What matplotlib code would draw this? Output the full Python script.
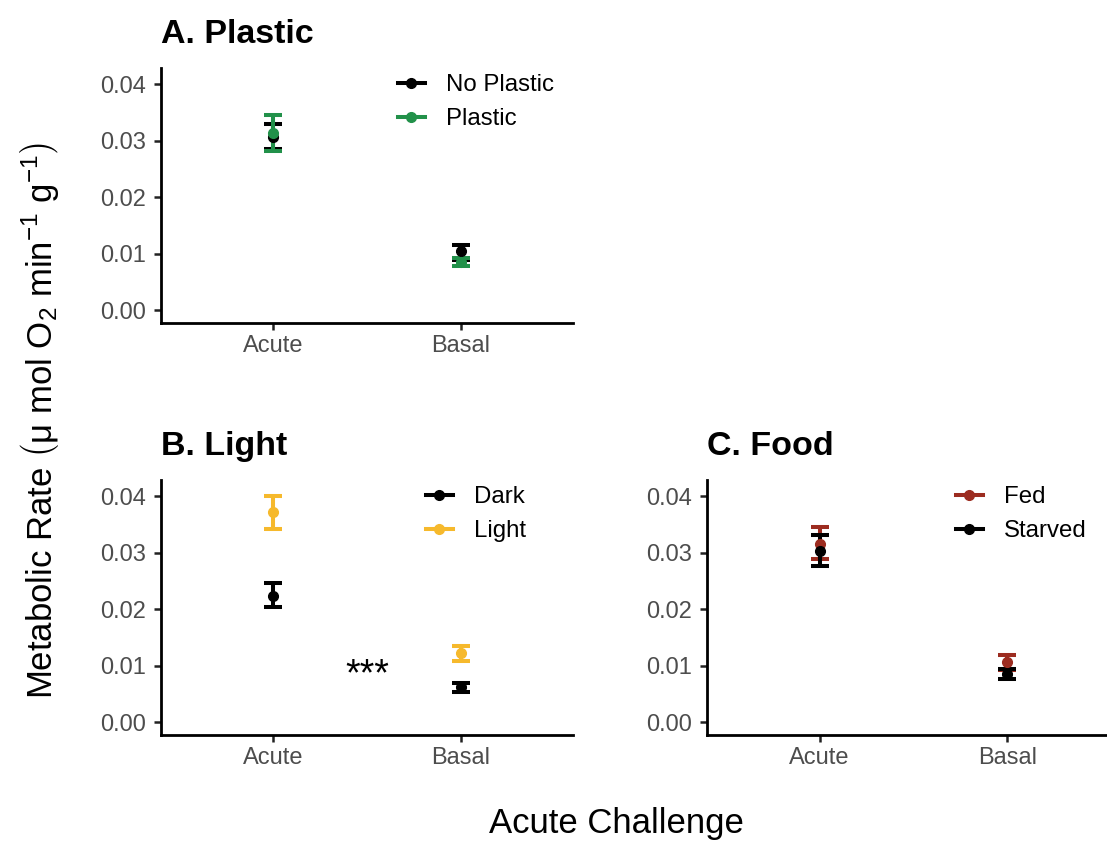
import matplotlib
matplotlib.use("Agg")
import matplotlib.pyplot as plt
from matplotlib.lines import Line2D

plt.rcParams['font.family'] = ['Liberation Sans', 'DejaVu Sans']
plt.rcParams['mathtext.fontset'] = 'custom'
plt.rcParams['mathtext.rm'] = 'Liberation Sans'
plt.rcParams['mathtext.it'] = 'Liberation Sans:italic'
plt.rcParams['mathtext.bf'] = 'Liberation Sans:bold'

# Challenge levels on the x axis
challenge = ["Acute", "Basal"]

# A. Plastic: mean and error-bar limits per challenge
no_plastic_mean = [0.0307, 0.0105]
no_plastic_low = [0.0285, 0.0089]
no_plastic_high = [0.0330, 0.0115]
plastic_mean = [0.0313, 0.0086]
plastic_low = [0.0282, 0.0078]
plastic_high = [0.0345, 0.0093]

# B. Light
dark_mean = [0.0224, 0.0062]
dark_low = [0.0204, 0.0054]
dark_high = [0.0246, 0.0070]
light_mean = [0.0372, 0.0123]
light_low = [0.0342, 0.0109]
light_high = [0.0400, 0.0134]

# C. Food
fed_mean = [0.0316, 0.0106]
fed_low = [0.0289, 0.0093]
fed_high = [0.0345, 0.0119]
starved_mean = [0.0304, 0.0086]
starved_low = [0.0277, 0.0076]
starved_high = [0.0332, 0.0094]

BLACK = "#000000"
GREEN = "#22914A"
YELLOW = "#F6B92C"
RED = "#9C2C20"

W, H = 1107, 842
fig = plt.figure(figsize=(W / 100, H / 100), dpi=100)


def px_axes(left, top, right, bottom):
    return fig.add_axes([left / W, 1 - bottom / H, (right - left) / W, (bottom - top) / H])


def draw_series(ax, mean, low, high, color):
    x = list(range(1, len(challenge) + 1))
    yerr = [[m - l for m, l in zip(mean, low)], [h - m for m, h in zip(mean, high)]]
    ax.errorbar(x, mean, yerr=yerr, fmt='o', color=color, ecolor=color,
                markersize=7, elinewidth=2.9, capsize=6.6, capthick=2.9,
                zorder=3)


def style_axes(ax, title, handles, legend_anchor):
    ax.set_xlim(0.4, 2.6)
    ax.set_ylim(-0.0023, 0.0429)
    ax.set_xticks([1, 2])
    ax.set_xticklabels(challenge)
    ax.set_yticks([0.0, 0.01, 0.02, 0.03, 0.04])
    ax.set_yticklabels(["0.00", "0.01", "0.02", "0.03", "0.04"])
    for side in ("top", "right"):
        ax.spines[side].set_visible(False)
    for side in ("left", "bottom"):
        ax.spines[side].set_linewidth(2.0)
        ax.spines[side].set_color("black")
    ax.tick_params(axis='both', length=5, width=1.8, color="#222222",
                   labelsize=17, labelcolor="#4D4D4D")
    ax.tick_params(axis='y', pad=6)
    ax.tick_params(axis='x', pad=4)
    ax.annotate(title, xy=(0, 1), xycoords='axes fraction', xytext=(0, 18),
                textcoords='offset points', ha='left', va='baseline',
                fontsize=24.5, fontweight='bold')
    leg = ax.legend(handles=handles, loc='center left', bbox_to_anchor=legend_anchor,
                    frameon=False, fontsize=17.3, handlelength=1.15,
                    handletextpad=0.85, labelspacing=0.5, borderaxespad=0)
    return leg


def key(color, label):
    return Line2D([], [], color=color, marker='o', markersize=7, linewidth=2.9,
                  label=label)


# Panel A
axA = px_axes(161, 68, 573, 323)
draw_series(axA, no_plastic_mean, no_plastic_low, no_plastic_high, BLACK)
draw_series(axA, plastic_mean, plastic_low, plastic_high, GREEN)
style_axes(axA, "A. Plastic", [key(BLACK, "No Plastic"), key(GREEN, "Plastic")],
           ((388 - 161) / 412, 1 - (102 - 68) / 255))

# Panel B
axB = px_axes(161, 480, 573, 735)
draw_series(axB, dark_mean, dark_low, dark_high, BLACK)
draw_series(axB, light_mean, light_low, light_high, YELLOW)
style_axes(axB, "B. Light", [key(BLACK, "Dark"), key(YELLOW, "Light")],
           ((416 - 161) / 412, 1 - (514 - 480) / 255))
axB.text(1.5, 0.0082, "***", ha='center', va='center', fontsize=27)

# Panel C
axC = px_axes(707, 480, 1120, 735)
draw_series(axC, fed_mean, fed_low, fed_high, RED)
draw_series(axC, starved_mean, starved_low, starved_high, BLACK)
style_axes(axC, "C. Food", [key(RED, "Fed"), key(BLACK, "Starved")],
           ((946 - 707) / 413, 1 - (514 - 480) / 255))

fig.text(40 / W, 1 - 421 / H,
         r"Metabolic Rate $\left(\mathrm{μ\ mol\ O_2\ min^{-1}\ g^{-1}}\right)$",
         rotation=90, ha='center', va='center', fontsize=25)
fig.text(616 / W, 1 - 833 / H, "Acute Challenge", ha='center', va='baseline',
         fontsize=25)

fig.savefig("out.png", dpi=100)
